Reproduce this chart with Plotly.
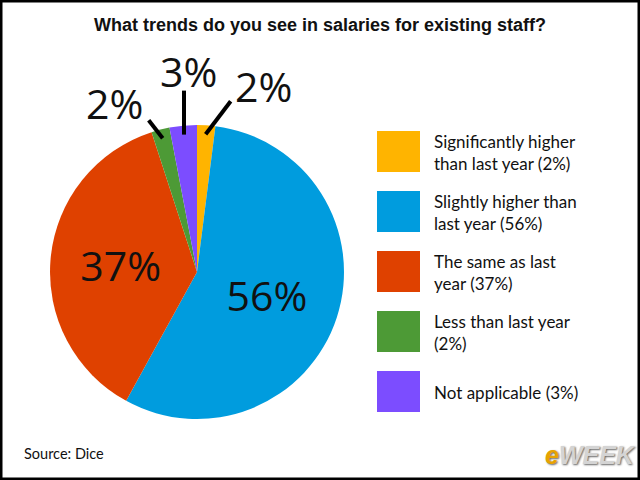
import math
import plotly.graph_objects as go

# ---------------- data ----------------
CATEGORIES = [
    "Significantly higher than last year",
    "Slightly higher than last year",
    "The same as last year",
    "Less than last year",
    "Not applicable",
]
VALUES = [2, 56, 37, 2, 3]
LEGEND_TEXT = [
    "Significantly higher<br>than last year (2%)",
    "Slightly higher than<br>last year (56%)",
    "The same as last<br>year (37%)",
    "Less than last year<br>(2%)",
    "Not applicable (3%)",
]
COLORS = ["#FFB400", "#009CDE", "#DF4100", "#4D9A36", "#7C4DFF"]
TITLE = "What trends do you see in salaries for existing staff?"
SOURCE = "Source: Dice"

# ---------------- layout geometry (pixels) ----------------
W, H = 640, 480
CX, CY, R = 197, 272, 147          # pie centre / radius in px (from top-left)
INSIDE = [False, True, True, False, False]
# label offsets for small slices: (line tail dx,dy), (text dx,dy) relative to tip
LINE_TAIL = {0: (25, -33), 3: (-14, -18), 4: (0, -44)}
TEXT_OFF = {0: (58, -48), 3: (-48, -35), 4: (4, -64)}


def px(x):
    return x / W


def py(y):
    return 1 - y / H


fig = go.Figure()
fig.add_trace(go.Pie(
    labels=CATEGORIES,
    values=VALUES,
    sort=False,
    direction="clockwise",
    rotation=0,
    marker=dict(colors=COLORS, line=dict(width=0)),
    texttemplate="%{value}%",
    textposition=["inside" if f else "none" for f in INSIDE],
    insidetextorientation="horizontal",
    textfont=dict(family="Open Sans", size=41, color="#111111"),
    hoverinfo="label+percent",
    showlegend=False,
    domain=dict(x=[px(CX - R), px(CX + R)], y=[py(CY + R), py(CY - R)]),
))

shapes = []
annotations = []

# outside labels with leader lines, angles derived from the data
total = sum(VALUES)
cum = 0
for i, v in enumerate(VALUES):
    mid = (cum + v / 2) / total * 2 * math.pi
    cum += v
    if INSIDE[i]:
        continue
    rr = R - 9
    tx = CX + rr * math.sin(mid)
    ty = CY - rr * math.cos(mid)
    lx, ly = LINE_TAIL[i]
    shapes.append(dict(type="line", xref="paper", yref="paper",
                       x0=px(tx), y0=py(ty), x1=px(tx + lx), y1=py(ty + ly),
                       line=dict(color="#000000", width=4)))
    ox, oy = TEXT_OFF[i]
    annotations.append(dict(x=px(tx + ox), y=py(ty + oy), xref="paper", yref="paper",
                            text=f"{v}%", showarrow=False, xanchor="center", yanchor="middle",
                            font=dict(family="Open Sans", size=41, color="#111111")))

# custom legend
for i, (txt, col) in enumerate(zip(LEGEND_TEXT, COLORS)):
    top = 131 + 60 * i
    shapes.append(dict(type="rect", xref="paper", yref="paper",
                       x0=px(377), x1=px(420), y0=py(top + 41), y1=py(top),
                       fillcolor=col, line=dict(width=0)))
    annotations.append(dict(x=px(432), y=py(top + 21), xref="paper", yref="paper",
                            text=txt, showarrow=False, xanchor="left", yanchor="middle",
                            align="left",
                            font=dict(family="Lato", size=17, color="#111111")))

# title
annotations.append(dict(x=0.5, y=py(25), xref="paper", yref="paper", text=f"<b>{TITLE}</b>",
                        showarrow=False, xanchor="center", yanchor="middle",
                        font=dict(family="Liberation Sans", size=18, color="#111111")))
# source
annotations.append(dict(x=px(22), y=py(453), xref="paper", yref="paper", text=SOURCE,
                        showarrow=False, xanchor="left", yanchor="middle",
                        font=dict(family="Lato", size=14.5, color="#111111")))
# logo
annotations.append(dict(x=px(590), y=py(455), xref="paper", yref="paper",
                        text="<b><i><span style='color:#E8A300'>e</span>"
                             "<span style='color:#D4D4D4'>WEEK</span></i></b>",
                        showarrow=False, xanchor="center", yanchor="middle",
                        font=dict(family="Liberation Sans", size=25, color="#D4D4D4",
                                  shadow="1px 1px 2px #666")))

# frame
shapes.append(dict(type="rect", xref="paper", yref="paper", x0=0, x1=1, y0=0, y1=1,
                   line=dict(color="#000000", width=5), fillcolor="rgba(0,0,0,0)"))

fig.update_layout(
    width=W, height=H,
    margin=dict(l=0, r=0, t=0, b=0),
    paper_bgcolor="white",
    plot_bgcolor="white",
    shapes=shapes,
    annotations=annotations,
)

fig.write_html("out.html")
